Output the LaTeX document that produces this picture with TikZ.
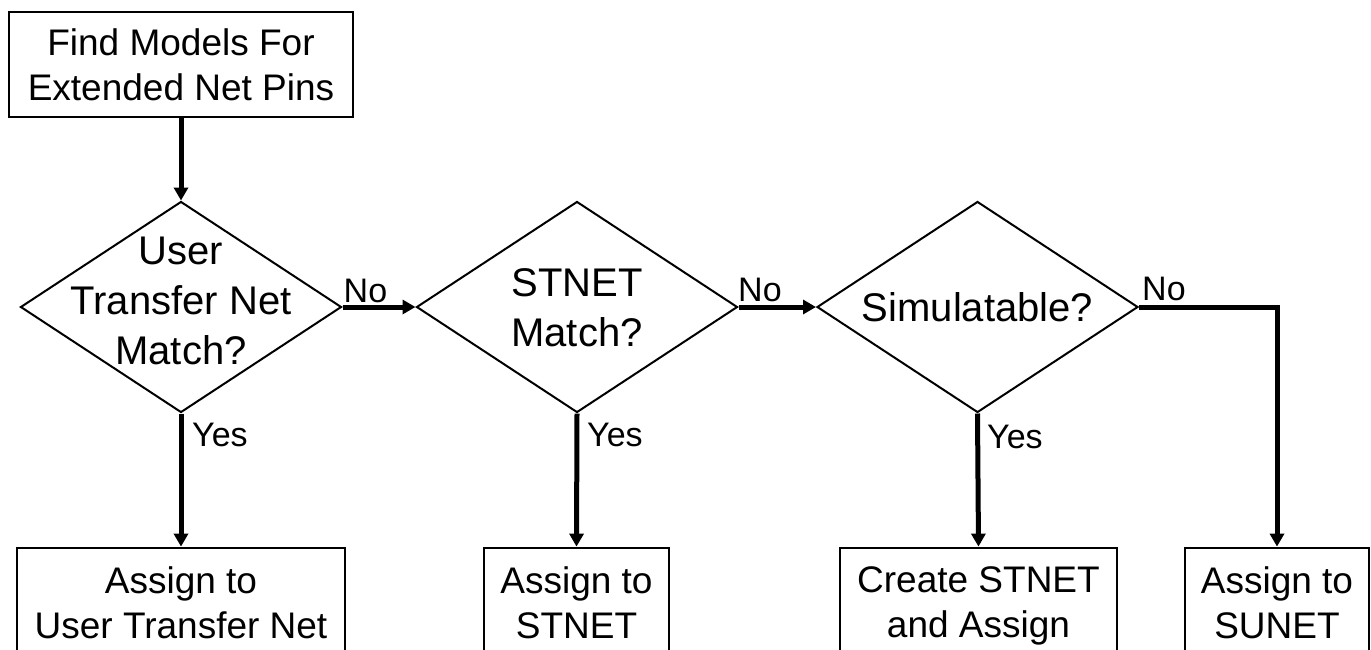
\documentclass[tikz,border=0pt]{standalone}
\usepackage{fontspec}
\setmainfont{Liberation Sans}
\usetikzlibrary{shapes.geometric,arrows.meta}
\begin{document}
\begin{tikzpicture}[x=1pt,y=-1pt,
  boxnode/.style={draw, line width=2.8pt, rectangle, inner sep=0pt, align=center, font=\fontsize{37}{45}\selectfont},
  decnode/.style={draw, line width=2pt, diamond, inner sep=0pt, minimum width=321pt, minimum height=211pt},
  dectext/.style={inner sep=0pt, align=center, font=\fontsize{40}{50}\selectfont},
  lbl/.style={inner sep=0pt, anchor=base west, font=\fontsize{34}{40}\selectfont},
  flow/.style={line width=5pt, -{Triangle[length=13pt,width=14pt]}},
]
\useasboundingbox (0,0) rectangle (1371,649);
\clip (0,0) rectangle (1371,649);

\node[boxnode, minimum width=344pt, minimum height=105pt] (top) at (181,64.5) {Find Models For\\Extended Net Pins};

\node[decnode] (d1) at (181,307) {};
\node[decnode] (d2) at (577,307) {};
\node[decnode] (d3) at (977.5,307) {};

\node[dectext] (t1) at (181,301) {User\\Transfer Net\\Match?};
\node[dectext] (t2) at (577,308) {STNET\\Match?};
\node[dectext] (t3) at (977.5,307) {Simulatable?};

\node[boxnode, minimum width=328pt, minimum height=110pt] (b1) at (181,603) {Assign to\\User Transfer Net};
\node[boxnode, minimum width=185pt, minimum height=110pt] (b2) at (576.5,603) {Assign to\\STNET};
\node[boxnode, minimum width=277pt, minimum height=116pt] (b3) at (978.5,606) {Create STNET\\and Assign};
\node[boxnode, minimum width=184pt, minimum height=110pt] (b4) at (1277,603) {Assign to\\SUNET};

\draw[flow] (top.south) -- (d1.north);
\draw[flow] (d1.east) -- (d2.west);
\draw[flow] (d2.east) -- (d3.west);
\draw[flow] (d1.south) -- (b1.north);
\draw[flow] (d2.south) -- (b2.north);
\draw[flow] (d3.south) -- (b3.north);
\draw[flow] (d3.east) -| (b4.north);

\node[lbl] (no1) at (343.5,302) {No};
\node[lbl] (no2) at (738,301) {No};
\node[lbl] (no3) at (1142,300) {No};
\node[lbl] (y1) at (192,446) {Yes};
\node[lbl] (y2) at (587,446) {Yes};
\node[lbl] (y3) at (987,448) {Yes};
\end{tikzpicture}
\end{document}
